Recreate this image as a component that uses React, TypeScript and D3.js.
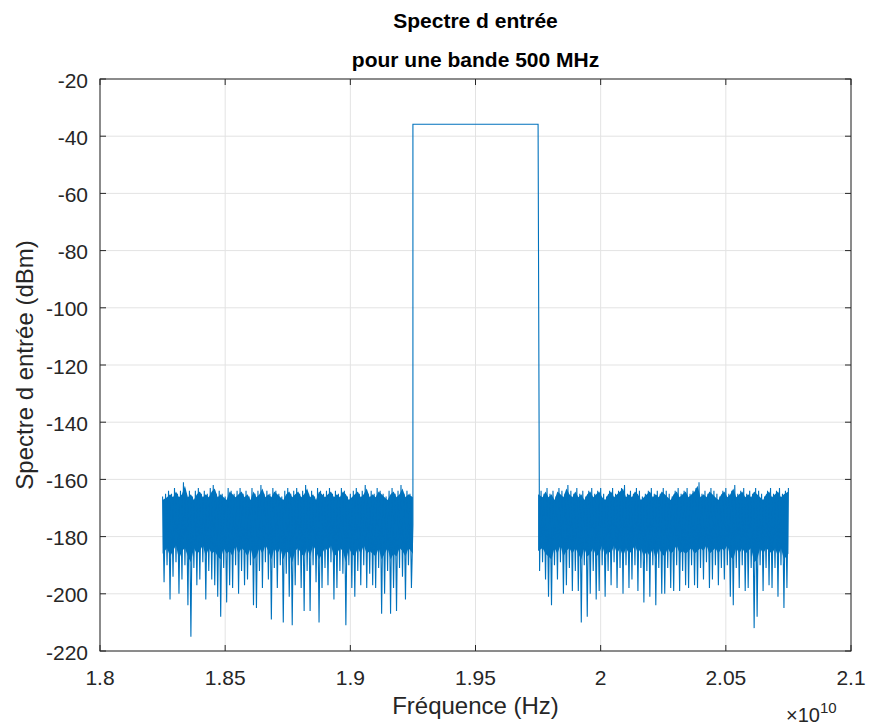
import React from 'react';
import * as d3 from 'd3';

// ---- data ----
const xTickValues = [1.8e10, 1.85e10, 1.9e10, 1.95e10, 2.0e10, 2.05e10, 2.1e10];
const xTickLabels = ['1.8', '1.85', '1.9', '1.95', '2', '2.05', '2.1'];
const yTickValues = [-20, -40, -60, -80, -100, -120, -140, -160, -180, -200, -220];

const noiseLeftStart = 1.825e10;
const noiseRightStart = 1.975e10;
const noiseBinWidth = 1e9 / 84;

// per-bin maximum of the noise floor (dBm)
const leftHigh = [
  -166, -165, -164, -165, -163, -165, -164, -161, -165, -164, -166, -164,
  -163, -165, -164, -165, -163, -162, -165, -164, -165, -166, -163, -164,
  -165, -164, -163, -165, -164, -166, -163, -165, -164, -162, -165, -164,
  -165, -163, -164, -165, -166, -164, -163, -165, -164, -163, -165, -164,
  -162, -165, -164, -166, -163, -164, -165, -164, -163, -165, -164, -165,
  -163, -164, -166, -165, -164, -163, -165, -164, -162, -165, -164, -165,
  -163, -164, -165, -166, -164, -163, -165, -164, -162, -165, -164, -165,
];
// per-bin dense lower edge (dBm)
const leftFloor = [
  -186, -184, -187, -185, -183, -188, -185, -184, -187, -189, -184, -186,
  -185, -183, -187, -184, -186, -185, -187, -188, -184, -186, -185, -187,
  -183, -186, -184, -185, -187, -184, -188, -187, -184, -186, -183, -185,
  -188, -184, -186, -184, -188, -185, -186, -189, -185, -184, -186, -187,
  -184, -187, -183, -185, -188, -186, -184, -185, -183, -187, -186, -184,
  -185, -189, -184, -186, -187, -184, -186, -183, -186, -185, -186, -187,
  -184, -188, -186, -184, -188, -186, -187, -184, -185, -187, -184, -186,
];
// per-bin minimum (downward spikes, dBm)
const leftLow = [
  -196, -190, -202, -194, -189, -200, -195, -190, -204, -215, -191, -197,
  -195, -189, -202, -192, -195, -197, -201, -208, -191, -203, -197, -198,
  -190, -200, -192, -197, -195, -190, -204, -205, -192, -198, -189, -195,
  -209, -191, -198, -190, -210, -193, -201, -211, -197, -190, -198, -206,
  -192, -206, -190, -196, -210, -198, -191, -197, -189, -202, -198, -192,
  -193, -211, -190, -198, -201, -192, -197, -190, -198, -193, -197, -198,
  -191, -207, -200, -192, -207, -198, -206, -191, -194, -202, -190, -198,
];
const rightHigh = [
  -164, -165, -163, -165, -164, -166, -163, -164, -165, -162, -164, -165,
  -163, -165, -164, -166, -164, -163, -165, -164, -163, -165, -166, -164,
  -163, -165, -164, -163, -162, -165, -164, -165, -163, -164, -166, -165,
  -164, -163, -165, -164, -165, -163, -164, -165, -166, -164, -163, -165,
  -164, -163, -165, -164, -163, -161, -165, -164, -165, -163, -164, -165,
  -166, -164, -163, -165, -164, -162, -165, -164, -163, -165, -164, -165,
  -163, -164, -165, -166, -164, -163, -165, -164, -163, -165, -164, -163,
];
const rightFloor = [
  -185, -184, -186, -187, -188, -184, -186, -183, -187, -185, -184, -186,
  -184, -186, -188, -184, -187, -186, -184, -187, -186, -183, -187, -185,
  -186, -183, -186, -184, -187, -184, -186, -185, -183, -186, -184, -187,
  -185, -187, -184, -188, -184, -186, -187, -184, -186, -185, -183, -186,
  -185, -186, -185, -184, -186, -185, -184, -185, -183, -186, -185, -184,
  -186, -184, -185, -183, -187, -188, -184, -186, -184, -186, -185, -184,
  -189, -188, -184, -186, -184, -185, -186, -184, -187, -184, -188, -186,
];
const rightLow = [
  -192, -189, -195, -201, -204, -190, -195, -189, -200, -197, -191, -199,
  -192, -199, -210, -190, -208, -200, -192, -202, -199, -190, -201, -192,
  -197, -189, -198, -191, -200, -190, -198, -195, -190, -199, -191, -203,
  -192, -201, -190, -204, -191, -200, -200, -191, -198, -199, -190, -199,
  -192, -197, -198, -190, -197, -198, -191, -195, -189, -198, -195, -190,
  -197, -191, -195, -190, -201, -204, -191, -198, -190, -199, -198, -191,
  -212, -208, -190, -199, -191, -197, -198, -191, -201, -190, -205, -198,
];

const signalFreq = [1.925e10, 1.975e10];
const signalLevel = [-35.8, -35.8];

const title = ['Spectre d entrée', 'pour une bande 500 MHz'];
const xLabel = 'Fréquence (Hz)';
const yLabel = 'Spectre d entrée (dBm)';

// ---- layout ----
const W = 869;
const H = 725;
const L = 100, R = 851, T = 79, B = 651;
const FONT = '"Liberation Sans", Arial, Helvetica, sans-serif';
const BLUE = '#0072BD';
const AX = '#262626';
const GRID = '#e3e3e3';

type P = [number, number];

export default function App() {
  const x = d3.scaleLinear().domain([1.8e10, 2.1e10]).range([L, R]);
  const y = d3.scaleLinear().domain([-220, -20]).range([B, T]);

  // main trace: zig-zag through each bin's max and min
  const pts: P[] = [];
  leftHigh.forEach((h, i) => {
    pts.push([noiseLeftStart + i * noiseBinWidth, h]);
    pts.push([noiseLeftStart + (i + 0.5) * noiseBinWidth, leftLow[i]]);
  });
  pts.push([signalFreq[0], -176]);
  pts.push([signalFreq[0], signalLevel[0]]);
  pts.push([signalFreq[1], signalLevel[1]]);
  rightHigh.forEach((h, i) => {
    pts.push([noiseRightStart + (i + 0.5) * noiseBinWidth, rightLow[i]]);
    pts.push([noiseRightStart + (i + 1) * noiseBinWidth, h]);
  });

  // dense core of the noise band
  type C = { f: number; hi: number; lo: number };
  const leftCore: C[] = leftHigh.map((h, i) => ({
    f: noiseLeftStart + (i + 0.5) * noiseBinWidth, hi: h - 1.2, lo: leftFloor[i],
  }));
  const rightCore: C[] = rightHigh.map((h, i) => ({
    f: noiseRightStart + (i + 0.5) * noiseBinWidth, hi: h - 1.2, lo: rightFloor[i],
  }));
  leftCore[0].f = noiseLeftStart;
  leftCore[leftCore.length - 1].f = signalFreq[0];
  rightCore[0].f = signalFreq[1];
  rightCore[rightCore.length - 1].f = noiseRightStart + 84 * noiseBinWidth;

  const area = d3.area<C>().x(d => x(d.f)).y0(d => y(d.lo)).y1(d => y(d.hi));
  const line = d3.line<P>().x(d => x(d[0])).y(d => y(d[1]));
  const tick = 6;

  return (
    <svg width={W} height={H} style={{ position: 'absolute', left: 0, top: 0, background: '#fff' }}
      fontFamily={FONT}>
      <rect x={0} y={0} width={W} height={H} fill="#fff" />
      {/* grid */}
      {xTickValues.map((v, i) => (
        <line key={'gx' + i} x1={x(v)} x2={x(v)} y1={T} y2={B} stroke={GRID} strokeWidth={1} />
      ))}
      {yTickValues.map((v, i) => (
        <line key={'gy' + i} x1={L} x2={R} y1={y(v)} y2={y(v)} stroke={GRID} strokeWidth={1} />
      ))}
      {/* data */}
      <path d={area(leftCore) || ''} fill={BLUE} />
      <path d={area(rightCore) || ''} fill={BLUE} />
      <path d={line(pts) || ''} fill="none" stroke={BLUE} strokeWidth={1.1} strokeLinejoin="miter" />
      {/* box */}
      <rect x={L} y={T} width={R - L} height={B - T} fill="none" stroke={AX} strokeWidth={1} />
      {/* ticks */}
      {xTickValues.map((v, i) => (
        <g key={'tx' + i}>
          <line x1={x(v)} x2={x(v)} y1={B} y2={B - tick} stroke={AX} />
          <line x1={x(v)} x2={x(v)} y1={T} y2={T + tick} stroke={AX} />
          <text x={x(v)} y={B + 34} textAnchor="middle" fontSize={21} fill={AX}>{xTickLabels[i]}</text>
        </g>
      ))}
      {yTickValues.map((v, i) => (
        <g key={'ty' + i}>
          <line x1={L} x2={L + tick} y1={y(v)} y2={y(v)} stroke={AX} />
          <line x1={R} x2={R - tick} y1={y(v)} y2={y(v)} stroke={AX} />
          <text x={L - 12} y={y(v) + 8.5} textAnchor="end" fontSize={21} fill={AX}>{v}</text>
        </g>
      ))}
      {/* exponent */}
      <text x={786} y={722} fontSize={20} fill={AX}>
        ×10<tspan dy={-9} fontSize={15}>10</tspan>
      </text>
      {/* labels */}
      <text x={(L + R) / 2} y={714} textAnchor="middle" fontSize={24} fill={AX}>{xLabel}</text>
      <text transform={`translate(33, ${(T + B) / 2}) rotate(-90)`} textAnchor="middle" fontSize={24} fill={AX}>{yLabel}</text>
      {title.map((t, i) => (
        <text key={'t' + i} x={(L + R) / 2} y={28 + i * 39} textAnchor="middle" fontSize={21}
          fontWeight="bold" fill="#000">{t}</text>
      ))}
    </svg>
  );
}
